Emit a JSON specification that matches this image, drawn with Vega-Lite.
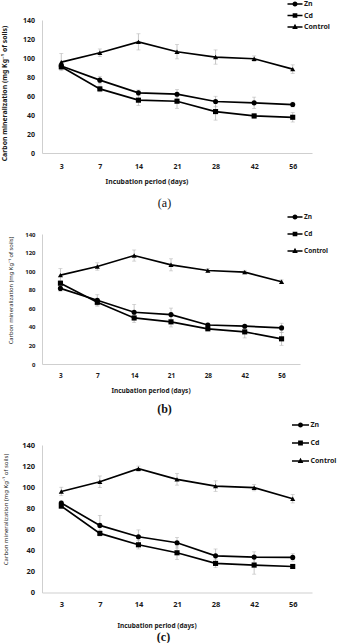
{
  "$schema": "https://vega.github.io/schema/vega-lite/v6.json",
  "background": "white",
  "padding": {"left": 0, "top": -4, "right": 0, "bottom": 0},
  "bounds": "flush",
  "spacing": 81,
  "config": {
    "view": {"stroke": null},
    "font": "Noto Sans",
    "axis": {
      "domainColor": "#cfcfcf",
      "domainWidth": 1,
      "ticks": false,
      "tickSize": 0,
      "grid": false,
      "labelColor": "#1a1a1a",
      "titleColor": "#1a1a1a",
      "labelFont": "Noto Sans",
      "titleFont": "Noto Sans",
      "labelFontWeight": "bold"
    },
    "legend": {
      "labelFont": "Noto Sans",
      "labelFontWeight": "bold",
      "labelColor": "#1a1a1a",
      "symbolFillColor": "black",
      "symbolStrokeColor": "black",
      "symbolStrokeWidth": 0,
      "labelOffset": 1.5,
      "padding": 0
    }
  },
  "datasets": {
    "a": [
      {"day": 3, "series": "Zn", "value": 91.5, "err": 3},
      {"day": 7, "series": "Zn", "value": 76.7, "err": 4},
      {"day": 14, "series": "Zn", "value": 63.3, "err": 3},
      {"day": 21, "series": "Zn", "value": 61.9, "err": 5},
      {"day": 28, "series": "Zn", "value": 54.2, "err": 5.5},
      {"day": 42, "series": "Zn", "value": 52.8, "err": 6},
      {"day": 56, "series": "Zn", "value": 51, "err": 2.5},
      {"day": 3, "series": "Cd", "value": 90.7, "err": 2.5},
      {"day": 7, "series": "Cd", "value": 67.5, "err": 3},
      {"day": 14, "series": "Cd", "value": 55.6, "err": 5.5},
      {"day": 21, "series": "Cd", "value": 54.5, "err": 7.5},
      {"day": 28, "series": "Cd", "value": 43.6, "err": 9},
      {"day": 42, "series": "Cd", "value": 39, "err": 2.5},
      {"day": 56, "series": "Cd", "value": 37.6, "err": 5},
      {"day": 3, "series": "Control", "value": 95.7, "err": 9},
      {"day": 7, "series": "Control", "value": 105.5, "err": 4},
      {"day": 14, "series": "Control", "value": 117, "err": 8.5},
      {"day": 21, "series": "Control", "value": 106.6, "err": 7.5},
      {"day": 28, "series": "Control", "value": 101, "err": 7.5},
      {"day": 42, "series": "Control", "value": 99.2, "err": 3},
      {"day": 56, "series": "Control", "value": 88.3, "err": 4.5}
    ],
    "b": [
      {"day": 3, "series": "Zn", "value": 81.4, "err": 3},
      {"day": 7, "series": "Zn", "value": 68.6, "err": 6},
      {"day": 14, "series": "Zn", "value": 55.7, "err": 8.5},
      {"day": 21, "series": "Zn", "value": 53.2, "err": 7},
      {"day": 28, "series": "Zn", "value": 42, "err": 2},
      {"day": 42, "series": "Zn", "value": 40.7, "err": 2},
      {"day": 56, "series": "Zn", "value": 38.9, "err": 5},
      {"day": 3, "series": "Cd", "value": 87, "err": 3},
      {"day": 7, "series": "Cd", "value": 66.4, "err": 4},
      {"day": 14, "series": "Cd", "value": 49.6, "err": 5},
      {"day": 21, "series": "Cd", "value": 45.4, "err": 5.5},
      {"day": 28, "series": "Cd", "value": 37.9, "err": 2},
      {"day": 42, "series": "Cd", "value": 34.6, "err": 6.5},
      {"day": 56, "series": "Cd", "value": 27.1, "err": 7},
      {"day": 3, "series": "Control", "value": 95.7, "err": 7},
      {"day": 7, "series": "Control", "value": 105, "err": 4},
      {"day": 14, "series": "Control", "value": 116.8, "err": 6},
      {"day": 21, "series": "Control", "value": 106.8, "err": 6.5},
      {"day": 28, "series": "Control", "value": 100.7, "err": 2},
      {"day": 42, "series": "Control", "value": 98.9, "err": 2},
      {"day": 56, "series": "Control", "value": 88.6, "err": 2}
    ],
    "c": [
      {"day": 3, "series": "Zn", "value": 84.9, "err": 2},
      {"day": 7, "series": "Zn", "value": 63.7, "err": 9.5},
      {"day": 14, "series": "Zn", "value": 52.9, "err": 6.5},
      {"day": 21, "series": "Zn", "value": 47.2, "err": 5},
      {"day": 28, "series": "Zn", "value": 34.8, "err": 6.5},
      {"day": 42, "series": "Zn", "value": 33.6, "err": 5},
      {"day": 56, "series": "Zn", "value": 33.3, "err": 3.5},
      {"day": 3, "series": "Cd", "value": 82, "err": 2},
      {"day": 7, "series": "Cd", "value": 56.1, "err": 2.5},
      {"day": 14, "series": "Cd", "value": 45.3, "err": 4},
      {"day": 21, "series": "Cd", "value": 37.7, "err": 6.5},
      {"day": 28, "series": "Cd", "value": 27.6, "err": 4},
      {"day": 42, "series": "Cd", "value": 26, "err": 8.6},
      {"day": 56, "series": "Cd", "value": 24.7, "err": 2},
      {"day": 3, "series": "Control", "value": 95.9, "err": 4},
      {"day": 7, "series": "Control", "value": 105.1, "err": 5.5},
      {"day": 14, "series": "Control", "value": 117.5, "err": 2.5},
      {"day": 21, "series": "Control", "value": 107.4, "err": 5.5},
      {"day": 28, "series": "Control", "value": 101, "err": 5},
      {"day": 42, "series": "Control", "value": 99.5, "err": 3},
      {"day": 56, "series": "Control", "value": 89, "err": 4}
    ]
  },
  "resolve": {
    "scale": {"x": "independent", "y": "independent", "shape": "independent"},
    "axis": {"x": "independent", "y": "independent"},
    "legend": {"shape": "independent"}
  },
  "vconcat": [
    {
      "width": 270,
      "height": 133,
      "data": {"name": "a"},
      "title": {"text": "(a)", "orient": "bottom", "anchor": "middle", "frame": "group", "font": "Liberation Serif", "fontSize": 12, "fontWeight": "normal", "color": "#111", "offset": 12, "dx": -12.5},
      "encoding": {
        "x": {"field": "day", "type": "ordinal", "scale": {"type": "point", "padding": 0.5},
          "axis": {"title": "Incubation period (days)", "labelAngle": 0, "labelFontSize": 7, "labelPadding": 9, "titleFontSize": 6.8, "titleFontWeight": "bold", "titleX": 104.5, "titleY": 28.7, "titleBaseline": "middle", "titleAlign": "center"}},
        "y": {"field": "value", "type": "quantitative", "scale": {"domain": [0, 140], "nice": false},
          "axis": {"title": "Carbon mineralization (mg Kg⁻¹ of soils)", "values": [0, 20, 40, 60, 80, 100, 120, 140], "labelFontSize": 7, "labelPadding": 7.5, "titleFontSize": 6.9, "titleFontWeight": "bold", "titleX": -37.5, "titleY": 73, "titleBaseline": "middle", "titleAlign": "center"}}
      },
      "resolve": {"scale": {"shape": "independent"}, "legend": {"shape": "independent"}},
      "layer": [
        {"mark": {"type": "errorbar", "ticks": {"size": 4}, "color": "#b8b8b8", "thickness": 0.8}, "encoding": {"yError": {"field": "err"}}},
        {"mark": {"type": "line", "color": "black", "strokeWidth": 1.7}, "encoding": {"detail": {"field": "series"}}},
        {"mark": {"type": "point", "filled": true, "opacity": 1, "color": "black", "size": 26},
          "encoding": {"shape": {"field": "series", "type": "nominal",
            "scale": {"domain": ["Zn", "Cd", "Control"], "range": ["circle", "square", "triangle-up"]}, "legend": null}}},
        {"transform": [{"filter": "false"}],
          "mark": {"type": "point", "filled": true, "color": "black"},
          "encoding": {"shape": {"field": "series", "type": "nominal",
            "scale": {"domain": ["Zn", "Cd", "Control"], "range": ["M-1,-0.1H1V0.1H-1ZM0.34,0A0.34,0.34,0,1,1,-0.34,0A0.34,0.34,0,1,1,0.34,0Z", "M-1,-0.1H1V0.1H-1ZM-0.31,-0.31H0.31V0.31H-0.31Z", "M-1,-0.1H1V0.1H-1ZM0,-0.42L0.37,0.26H-0.37Z"]},
            "legend": {"title": null, "orient": "none", "legendX": 245.5, "legendY": -23.5, "direction": "vertical", "symbolSize": 225, "rowPadding": 0.5, "labelFontSize": 7, "symbolOpacity": 1}}}}
      ]
    },
    {
      "width": 258,
      "height": 130,
      "data": {"name": "b"},
      "title": {"text": "(b)", "orient": "bottom", "anchor": "middle", "frame": "group", "font": "Liberation Serif", "fontSize": 12, "fontWeight": "bold", "color": "#111", "offset": 10, "dx": -6.5},
      "encoding": {
        "x": {"field": "day", "type": "ordinal", "scale": {"type": "point", "padding": 0.5},
          "axis": {"title": "Incubation period (days)", "labelAngle": 0, "labelFontSize": 6.5, "labelPadding": 8, "titleFontSize": 6.5, "titleFontWeight": "bold", "titleX": 108.5, "titleY": 26, "titleBaseline": "middle", "titleAlign": "center"}},
        "y": {"field": "value", "type": "quantitative", "scale": {"domain": [0, 140], "nice": false},
          "axis": {"title": "Carbon mineralization (mg Kg⁻¹ of soils)", "values": [0, 20, 40, 60, 80, 100, 120, 140], "labelFontSize": 6, "labelPadding": 7, "titleFontSize": 5.8, "titleFontWeight": "normal", "titleX": -31.5, "titleY": 56, "titleBaseline": "middle", "titleAlign": "center"}}
      },
      "resolve": {"scale": {"shape": "independent"}, "legend": {"shape": "independent"}},
      "layer": [
        {"mark": {"type": "errorbar", "ticks": {"size": 4}, "color": "#b8b8b8", "thickness": 0.8}, "encoding": {"yError": {"field": "err"}}},
        {"mark": {"type": "line", "color": "black", "strokeWidth": 1.7}, "encoding": {"detail": {"field": "series"}}},
        {"mark": {"type": "point", "filled": true, "opacity": 1, "color": "black", "size": 26},
          "encoding": {"shape": {"field": "series", "type": "nominal",
            "scale": {"domain": ["Zn", "Cd", "Control"], "range": ["circle", "square", "triangle-up"]}, "legend": null}}},
        {"transform": [{"filter": "false"}],
          "mark": {"type": "point", "filled": true, "color": "black"},
          "encoding": {"shape": {"field": "series", "type": "nominal",
            "scale": {"domain": ["Zn", "Cd", "Control"], "range": ["M-1,-0.1H1V0.1H-1ZM0.34,0A0.34,0.34,0,1,1,-0.34,0A0.34,0.34,0,1,1,0.34,0Z", "M-1,-0.1H1V0.1H-1ZM-0.31,-0.31H0.31V0.31H-0.31Z", "M-1,-0.1H1V0.1H-1ZM0,-0.42L0.37,0.26H-0.37Z"]},
            "legend": {"title": null, "orient": "none", "legendX": 245.5, "legendY": -24.5, "direction": "vertical", "symbolSize": 225, "rowPadding": 6, "labelFontSize": 6.5, "symbolOpacity": 1}}}}
      ]
    },
    {
      "width": 270,
      "height": 147.5,
      "data": {"name": "c"},
      "title": {"text": "(c)", "orient": "bottom", "anchor": "middle", "frame": "group", "font": "Liberation Serif", "fontSize": 12, "fontWeight": "bold", "color": "#111", "offset": 3, "dx": -13.5},
      "encoding": {
        "x": {"field": "day", "type": "ordinal", "scale": {"type": "point", "padding": 0.5},
          "axis": {"title": "Incubation period (days)", "labelAngle": 0, "labelFontSize": 7.5, "labelPadding": 8, "titleFontSize": 6.5, "titleFontWeight": "bold", "titleX": 114.5, "titleY": 32.5, "titleBaseline": "middle", "titleAlign": "center"}},
        "y": {"field": "value", "type": "quantitative", "scale": {"domain": [0, 140], "nice": false},
          "axis": {"title": "Carbon mineralization (mg Kg⁻¹ of soils)", "values": [0, 20, 40, 60, 80, 100, 120, 140], "labelFontSize": 7.5, "labelPadding": 7.5, "titleFontSize": 6, "titleFontWeight": "normal", "titleX": -36.5, "titleY": 64, "titleBaseline": "middle", "titleAlign": "center"}}
      },
      "resolve": {"scale": {"shape": "independent"}, "legend": {"shape": "independent"}},
      "layer": [
        {"mark": {"type": "errorbar", "ticks": {"size": 4}, "color": "#b8b8b8", "thickness": 0.8}, "encoding": {"yError": {"field": "err"}}},
        {"mark": {"type": "line", "color": "black", "strokeWidth": 1.7}, "encoding": {"detail": {"field": "series"}}},
        {"mark": {"type": "point", "filled": true, "opacity": 1, "color": "black", "size": 26},
          "encoding": {"shape": {"field": "series", "type": "nominal",
            "scale": {"domain": ["Zn", "Cd", "Control"], "range": ["circle", "square", "triangle-up"]}, "legend": null}}},
        {"transform": [{"filter": "false"}],
          "mark": {"type": "point", "filled": true, "color": "black"},
          "encoding": {"shape": {"field": "series", "type": "nominal",
            "scale": {"domain": ["Zn", "Cd", "Control"], "range": ["M-1,-0.09H1V0.09H-1ZM0.3,0A0.3,0.3,0,1,1,-0.3,0A0.3,0.3,0,1,1,0.3,0Z", "M-1,-0.09H1V0.09H-1ZM-0.28,-0.28H0.28V0.28H-0.28Z", "M-1,-0.09H1V0.09H-1ZM0,-0.38L0.33,0.24H-0.33Z"]},
            "legend": {"title": null, "orient": "none", "legendX": 250, "legendY": -28.5, "direction": "vertical", "symbolSize": 289, "rowPadding": 6, "labelFontSize": 7, "symbolOpacity": 1}}}}
      ]
    }
  ]
}
